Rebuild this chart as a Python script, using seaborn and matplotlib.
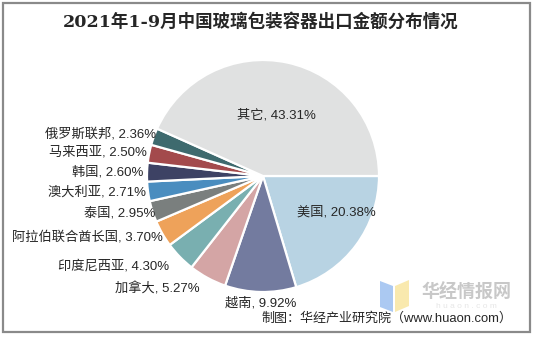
import numpy as np
import matplotlib
matplotlib.use("Agg")
import matplotlib.pyplot as plt
from matplotlib.patches import Polygon, Rectangle
import seaborn as sns

# Export share by destination, Jan–Sep 2021 (%)
countries = ["美国", "越南", "加拿大", "印度尼西亚", "阿拉伯联合酋长国", "泰国",
             "澳大利亚", "韩国", "马来西亚", "俄罗斯联邦", "其它"]
shares = [20.38, 9.92, 5.27, 4.30, 3.70, 2.95, 2.71, 2.60, 2.50, 2.36, 43.31]
colors = ["#b8d3e3", "#737b9f", "#d4a5a5", "#79afb0", "#eea25a", "#7a7f7e",
          "#4a8dbf", "#3d4264", "#a34a4c", "#3e6a6e", "#e0e1e1"]
title = "2021年1-9月中国玻璃包装容器出口金额分布情况"
source = "制图：华经产业研究院（www.huaon.com）"

sns.set_theme(style="white")
plt.rcParams["font.family"] = ["Liberation Sans", "Noto Sans CJK SC", "DejaVu Sans"]

W, H, DPI = 534, 337, 100
fig = plt.figure(figsize=(W / DPI, H / DPI), dpi=DPI)
fig.patch.set_facecolor("white")

# frame around the whole figure
fig.add_artist(Rectangle((3 / W, 5 / H), 527 / W, 329 / H, transform=fig.transFigure,
                         fill=False, edgecolor="#8a8a8a", linewidth=1.6))

cx, cy, R = 263, 176, 116
ax = fig.add_axes([(cx - R) / W, 1 - (cy + R) / H, 2 * R / W, 2 * R / H])

wedges, _ = ax.pie(shares, colors=colors, startangle=0, counterclock=False,
                   radius=1.0, wedgeprops=dict(edgecolor="white", linewidth=1.6))
ax.set_xlim(-1, 1)
ax.set_ylim(-1, 1)
ax.set_aspect("auto")
ax.axis("off")

# small horizontal nudges (pixels) for the outside labels so they sit beside their slices
nudge_px = {"俄罗斯联邦": 9, "马来西亚": 5, "韩国": 3, "澳大利亚": 5, "泰国": 9,
            "阿拉伯联合酋长国": 7, "印度尼西亚": -6, "加拿大": -5}

fs = 9.5
for w, name, val in zip(wedges, countries, shares):
    mid = np.deg2rad((w.theta1 + w.theta2) / 2)
    label = f"{name}, {val:.2f}%"
    if name == "其它":
        r, ha = 0.56, "center"
    elif name == "美国":
        ax.text(0.63, -0.31, label, ha="center", va="center", fontsize=fs, color="#262626")
        continue
    elif name == "越南":
        r, ha = 1.1, "center"
    else:
        r, ha = 1.06, "right"
    x, y = r * np.cos(mid), r * np.sin(mid)
    if name in ("加拿大", "印度尼西亚"):
        y -= 0.04
    if name == "其它":
        y -= 0.02
    x += nudge_px.get(name, 0) / R
    ax.text(x, y, label, ha=ha, va="center", fontsize=fs, color="#262626", clip_on=False)

fig.text(261 / W, 1 - 22 / H, title, ha="center", va="center", fontsize=12.6, fontweight="bold",
         color="#262626", family=["DejaVu Serif", "Noto Sans CJK SC"])

# watermark logo
fig.add_artist(Polygon([(380 / W, 1 - 281 / H), (393 / W, 1 - 286 / H),
                        (393 / W, 1 - 312 / H), (380 / W, 1 - 307 / H)],
                       closed=True, transform=fig.transFigure, facecolor="#9cc0f0",
                       edgecolor="none", alpha=0.85))
fig.add_artist(Polygon([(395 / W, 1 - 286 / H), (409 / W, 1 - 280 / H),
                        (409 / W, 1 - 306 / H), (395 / W, 1 - 312 / H)],
                       closed=True, transform=fig.transFigure, facecolor="#f8e6a0",
                       edgecolor="none", alpha=0.85))
fig.text(466 / W, 1 - 293 / H, "华经情报网", ha="center", va="center", fontsize=13,
         color="#c8c8c8", fontweight="bold")
fig.text(466 / W, 1 - 306 / H, "h u a o n . c o m", ha="center", va="center", fontsize=6,
         color="#e6e6e6")

fig.text(512 / W, 1 - 318 / H, source, ha="right", va="center", fontsize=9.4, color="#262626")

fig.savefig("out.png", dpi=DPI)
